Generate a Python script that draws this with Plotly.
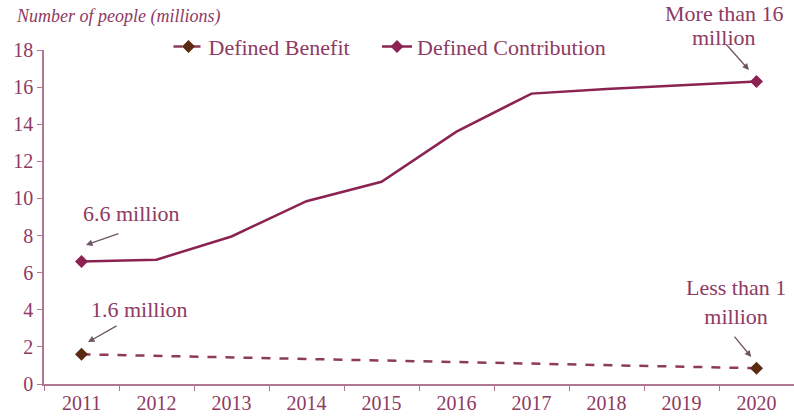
import plotly.graph_objects as go

years = ["2011", "2012", "2013", "2014", "2015", "2016", "2017", "2018", "2019", "2020"]
defined_benefit = [1.6, 1.52, 1.44, 1.35, 1.27, 1.18, 1.1, 1.02, 0.93, 0.85]
defined_contribution = [6.6, 6.7, 7.95, 9.85, 10.9, 13.6, 15.65, 15.9, 16.1, 16.3]
y_ticks = [0, 2, 4, 6, 8, 10, 12, 14, 16, 18]

TEXT = "#8e3a62"
LINE_DC = "#8b2252"
LINE_DB = "#8e3a5c"
MARK_DB = "#5c2a10"
ARROW = "#6e5565"
AXIS = "#b07890"
FONT = "Liberation Serif"
CLEAR = "rgba(0,0,0,0)"


def end_markers(color):
    # markers drawn only at the first and last year
    return [color if i in (0, len(years) - 1) else CLEAR for i in range(len(years))]


fig = go.Figure()
fig.add_trace(go.Scatter(
    x=years, y=defined_benefit, name="Defined Benefit", mode="lines+markers",
    line=dict(color=LINE_DB, width=2.5, dash="dash"),
    marker=dict(symbol="diamond", size=10, color=end_markers(MARK_DB)),
    legend="legend",
))
fig.add_trace(go.Scatter(
    x=years, y=defined_contribution, name="Defined Contribution", mode="lines+markers",
    line=dict(color=LINE_DC, width=2.5),
    marker=dict(symbol="diamond", size=10, color=end_markers(LINE_DC)),
    legend="legend2",
))


def label(x, y, text, yref="y"):
    fig.add_annotation(x=x, y=y, xref="x", yref=yref, yanchor="middle", text=text, showarrow=False,
                       font=dict(family=FONT, size=22, color=TEXT), align="center")


def arrow(x, y, ax, ay):
    fig.add_annotation(x=x, y=y, xref="x", yref="y", text="", showarrow=True,
                       ax=ax, ay=ay, arrowhead=2, arrowsize=1, arrowwidth=1.3,
                       arrowcolor=ARROW, standoff=0)


label(0.66, 9.2, "6.6 million")
arrow(0.06, 7.49, 34, -12)
label(0.77, 4.04, "1.6 million")
arrow(0.087, 2.26, 30, -17)
# two-line note above the top of the plot area, one annotation per line
label(8.57, 1.108, "More than 16", yref="paper")
label(8.57, 1.036, "million", yref="paper")
arrow(8.9, 16.92, -24, -27)
label(8.73, 4.42, "Less than 1<br>million")
arrow(8.93, 1.45, -18, -22)

fig.add_annotation(x=-0.04, y=1.099, xref="paper", yref="paper", xanchor="left", yanchor="middle",
                   text="<i>Number of people (millions)</i>", showarrow=False,
                   font=dict(family=FONT, size=18, color=TEXT))

legend_style = dict(orientation="h", y=1.01, xanchor="left", yanchor="middle",
                    font=dict(family=FONT, size=22, color=TEXT),
                    bgcolor="rgba(0,0,0,0)", itemwidth=30)

fig.update_layout(
    width=794, height=420,
    margin=dict(l=44, r=0, t=50, b=36),
    paper_bgcolor="white", plot_bgcolor="white",
    font=dict(family=FONT, size=20, color=TEXT),
    showlegend=True,
    legend=dict(x=0.166, **legend_style),
    legend2=dict(x=0.444, **legend_style),
    xaxis=dict(type="category", range=[-0.5, 9.5], showgrid=False, showline=True,
               linecolor=AXIS, linewidth=1.5, ticks="outside", tickson="boundaries",
               ticklen=5, tickcolor=AXIS, tickfont=dict(family=FONT, size=20, color=TEXT)),
    yaxis=dict(range=[0, 18], tickvals=y_ticks, showgrid=False, showline=True,
               linecolor=AXIS, linewidth=1.5, ticks="outside", ticklen=5, tickcolor=AXIS,
               zeroline=False, tickfont=dict(family=FONT, size=20, color=TEXT)),
)

fig.write_html("out.html")
